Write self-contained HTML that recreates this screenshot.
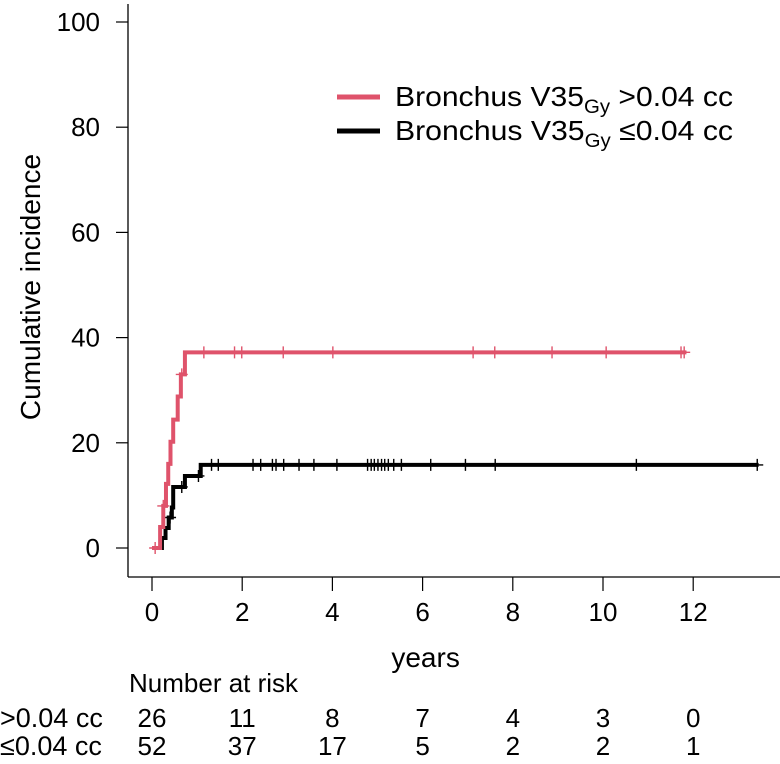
<!DOCTYPE html>
<html><head><meta charset="utf-8"><style>
html,body{margin:0;padding:0;background:#fff;}
svg{display:block;font-family:"Liberation Sans",Arial,sans-serif;}
</style></head><body>
<svg id="chart" width="780" height="764" viewBox="0 0 780 764">
<g id="axes"></g><g id="series"></g><g id="legend"></g><g id="risk"></g>
</svg>
<script>
const xTicks=[0,2,4,6,8,10,12];
const yTicks=[0,20,40,60,80,100];
const redTimes=[0.18,0.25,0.31,0.36,0.41,0.47,0.57,0.64,0.73];
const redValues=[4.0,8.0,12.2,16.0,20.2,24.4,28.8,33.0,37.2];
const redEnd=11.85;
const redCensorT=[0.07,0.25,0.66,1.15,1.83,1.99,2.91,4.01,7.12,7.60,8.87,10.07,11.73,11.80];
const blackTimes=[0.22,0.30,0.37,0.44,0.47,0.73,1.08];
const blackValues=[1.9,3.8,5.8,7.7,11.6,13.7,15.8];
const blackEnd=13.45;
const blackCensorT=[0.40,0.66,1.03,1.32,1.47,2.24,2.41,2.67,2.75,2.92,3.26,3.59,4.10,4.78,4.86,4.93,5.01,5.09,5.16,5.24,5.36,5.53,6.18,6.95,7.61,10.74,13.42];
const riskRed=[26,11,8,7,4,3,0];
const riskBlack=[52,37,17,5,2,2,1];
const NS='http://www.w3.org/2000/svg';
const X=t=>152+t*45.1;
const Y=v=>548-v*5.26;
function mk(tag,attrs,parent,text){const e=document.createElementNS(NS,tag);for(const k in attrs)e.setAttribute(k,attrs[k]);if(text!==undefined)e.textContent=text;parent.appendChild(e);return e;}
const ax=document.getElementById('axes');
let e=mk('line',{x1:128,y1:4,x2:128,y2:577,stroke:'#000','stroke-width':1.3},ax);


e=mk('line',{x1:128,y1:577,x2:780,y2:577,stroke:'#000','stroke-width':1.3},ax);


yTicks.forEach(v=>{
 mk('line',{x1:116,y1:Y(v),x2:128,y2:Y(v),stroke:'#000','stroke-width':1.2},ax);
 e=mk('text',{x:100,y:Y(v)+9,'text-anchor':'end','font-size':26},ax,String(v));
 
 
});
xTicks.forEach(v=>{
 mk('line',{x1:X(v),y1:577,x2:X(v),y2:591,stroke:'#000','stroke-width':1.2},ax);
 e=mk('text',{x:X(v),y:621,'text-anchor':'middle','font-size':26},ax,String(v));
 
 
});
e=mk('text',{x:X(6)+3,y:667,'text-anchor':'middle','font-size':28},ax,'years');


e=mk('text',{x:0,y:0,'text-anchor':'middle','font-size':28,transform:'translate(40,287) rotate(-90)'},ax,'Cumulative incidence');


const sg=document.getElementById('series');
function drawSeries(times,vals,end,cens,color,w,name){
 let d='M'+X(0)+','+Y(0);
 times.forEach((t,i)=>{d+=' H'+X(t)+' V'+Y(vals[i]);});
 d+=' H'+X(end);
 const p=mk('path',{d:d,fill:'none',stroke:color,'stroke-width':w},sg);
 
 
 cens.forEach(t=>{let v=0;times.forEach((tt,i)=>{if(tt<=t)v=vals[i];});
  const c=mk('path',{d:'M'+(X(t)-6)+','+Y(v)+' H'+(X(t)+6)+' M'+X(t)+','+(Y(v)-6)+' V'+(Y(v)+6),stroke:color,'stroke-width':1.4,fill:'none'},sg);
  
  
 });
}
drawSeries(blackTimes,blackValues,blackEnd,blackCensorT,'#000',4,'low-v35');
drawSeries(redTimes,redValues,redEnd,redCensorT,'#DF536B',4,'high-v35');
const lg=document.getElementById('legend');
[['#DF536B','>0.04 cc',97],['#000','≤0.04 cc',131]].forEach(r=>{
 const l=mk('line',{x1:337,y1:r[2],x2:380,y2:r[2],stroke:r[0],'stroke-width':5},lg);
 
 
 const t=mk('text',{x:395,y:r[2]+9,'font-size':28,textLength:338,lengthAdjust:'spacingAndGlyphs'},lg);
 
 
 mk('tspan',{},t,'Bronchus V35');
 mk('tspan',{'font-size':19,dy:7},t,'Gy');
 mk('tspan',{dy:-7},t,' '+r[1]);
});
const rk=document.getElementById('risk');
e=mk('text',{x:129,y:692,'font-size':26},rk,'Number at risk');


[[riskRed,'>0.04 cc',727],[riskBlack,'≤0.04 cc',755]].forEach(r=>{
 const lb=mk('text',{x:0,y:r[2],'font-size':27},rk,r[1]);
 
 
 r[0].forEach((n,i)=>{
  const t=mk('text',{x:X(xTicks[i]),y:r[2],'text-anchor':'middle','font-size':26},rk,String(n));
  
  
 });
});
</script>
</body></html>
